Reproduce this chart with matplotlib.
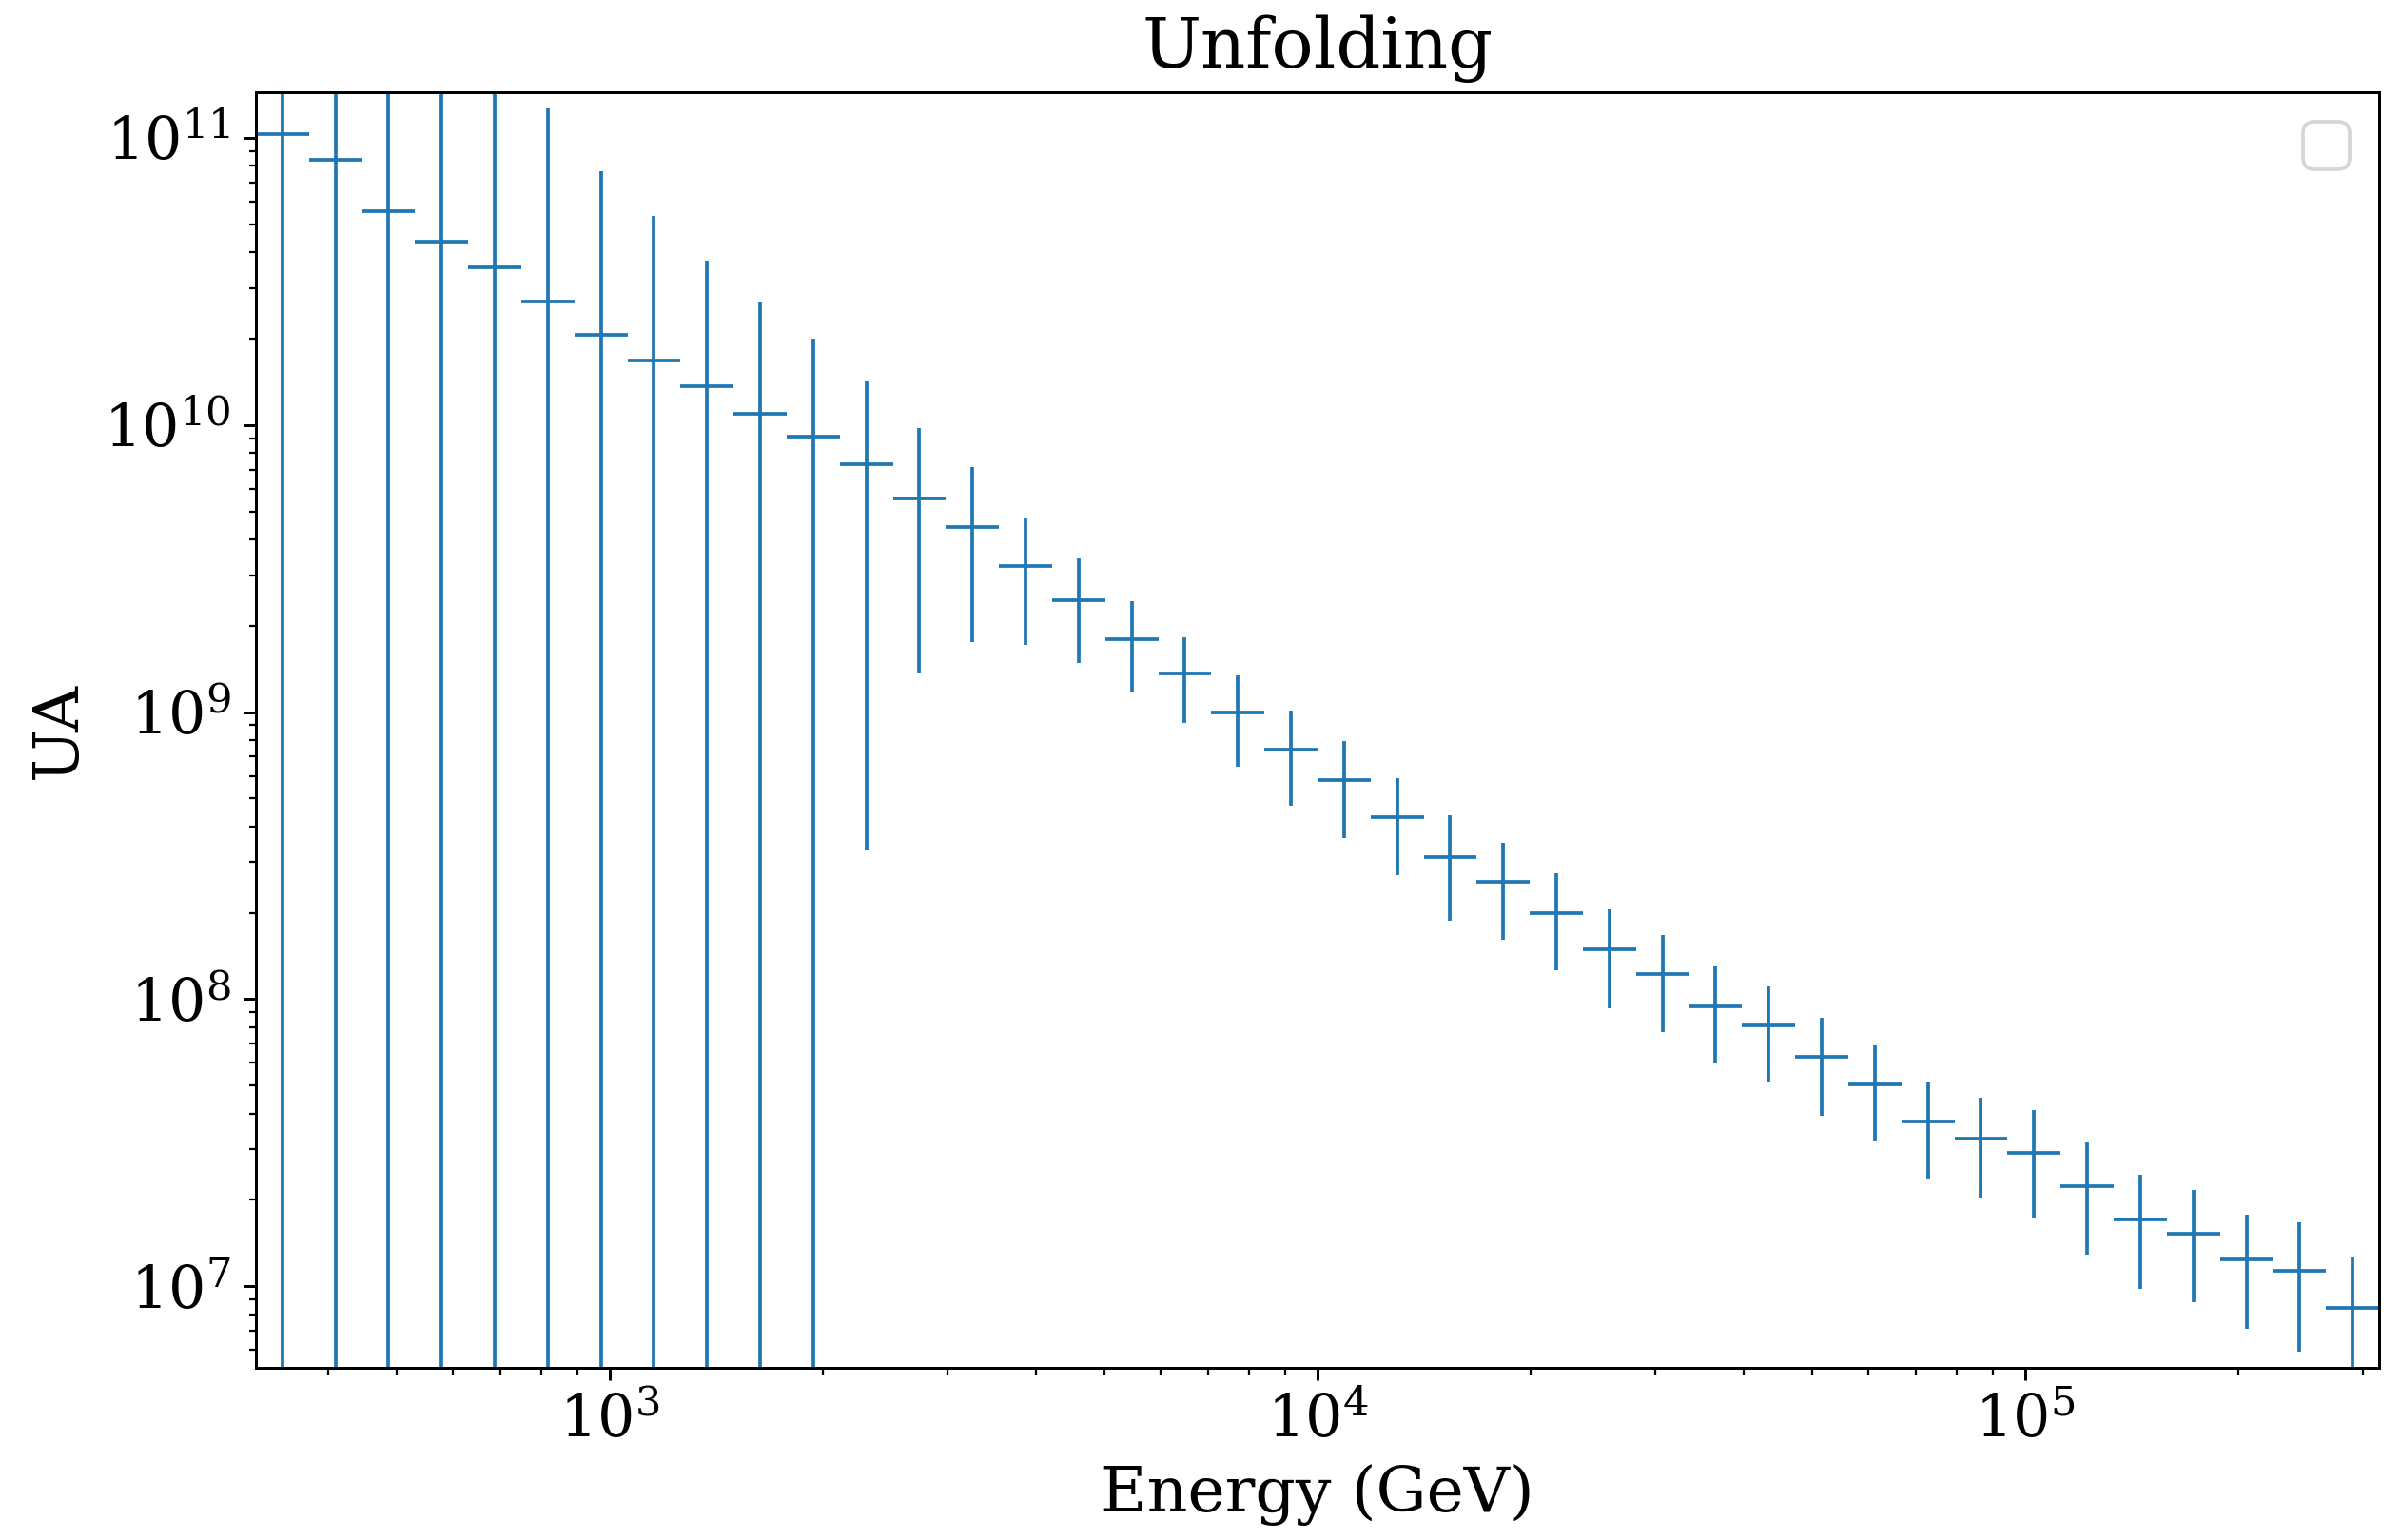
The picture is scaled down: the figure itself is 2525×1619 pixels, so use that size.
import matplotlib
matplotlib.use("Agg")
import matplotlib.pyplot as plt
import numpy as np

# energy bin edges (GeV), 40 log bins
energy_edges = [316.2, 375.8, 446.7, 530.9, 631.0, 749.9, 891.3, 1059.3, 1258.9,
                1496.2, 1778.3, 2113.5, 2511.9, 2985.4, 3548.1, 4217.0, 5011.9,
                5956.6, 7079.5, 8414.0, 10000.0, 11885.0, 14125.0, 16788.0,
                19953.0, 23714.0, 28184.0, 33497.0, 39811.0, 47315.0, 56234.0,
                66834.0, 79433.0, 94406.0, 112202.0, 133352.0, 158489.0,
                188365.0, 223872.0, 266073.0, 316228.0]

flux = [1.03e11, 8.37e10, 5.56e10, 4.34e10, 3.54e10, 2.70e10, 2.06e10, 1.68e10,
        1.37e10, 1.09e10, 9.13e9, 7.28e9, 5.56e9, 4.43e9, 3.22e9, 2.45e9,
        1.80e9, 1.365e9, 9.95e8, 7.42e8, 5.78e8, 4.31e8, 3.13e8, 2.56e8,
        2.0e8, 1.49e8, 1.22e8, 9.47e7, 8.11e7, 6.28e7, 5.05e7, 3.76e7,
        3.28e7, 2.92e7, 2.23e7, 1.71e7, 1.52e7, 1.24e7, 1.13e7, 8.4e6]

flux_err = [3.0e11, 2.6e11, 2.1e11, 1.7e11, 1.3e11, 1.0e11, 5.6e10, 3.68e10,
            2.36e10, 1.58e10, 1.08e10, 6.95e9, 4.2e9, 2.68e9, 1.5e9, 9.7e8,
            6.3e8, 4.5e8, 3.5e8, 2.7e8, 2.15e8, 1.6e8, 1.25e8, 9.5e7,
            7.4e7, 5.6e7, 4.5e7, 3.5e7, 3.0e7, 2.35e7, 1.85e7, 1.4e7,
            1.25e7, 1.18e7, 9.4e6, 7.3e6, 6.4e6, 5.3e6, 5.4e6, 4.3e6]


def main():
    plt.rcParams["font.family"] = "DejaVu Serif"
    plt.rcParams["mathtext.fontset"] = "dejavuserif"
    plt.rcParams["font.size"] = 16.5

    edges = np.array(energy_edges)
    lo, hi = edges[:-1], edges[1:]
    centers = np.sqrt(lo * hi)
    xerr = [centers - lo, hi - centers]

    fig = plt.figure(figsize=(2525 / 270, 1619 / 270), dpi=270)
    ax = fig.add_axes([0.1065, 0.1118, 0.884, 0.8282])

    ax.errorbar(centers, flux, yerr=flux_err, xerr=xerr, fmt="none",
                ecolor="#1f77b4", elinewidth=1.0)
    ax.set_xscale("log")
    ax.set_yscale("log")
    ax.set_xlim(energy_edges[0], energy_edges[-1])
    ax.set_ylim(5.2e6, 1.44e11)

    ax.set_title("Unfolding", fontsize=19.6, pad=7)
    ax.set_xlabel("Energy (GeV)", fontsize=17.7)
    ax.set_ylabel("UA", fontsize=17.7)
    ax.tick_params(labelsize=16.5)
    ax.legend()

    fig.savefig("out.png", dpi=270)


if __name__ == "__main__":
    main()
